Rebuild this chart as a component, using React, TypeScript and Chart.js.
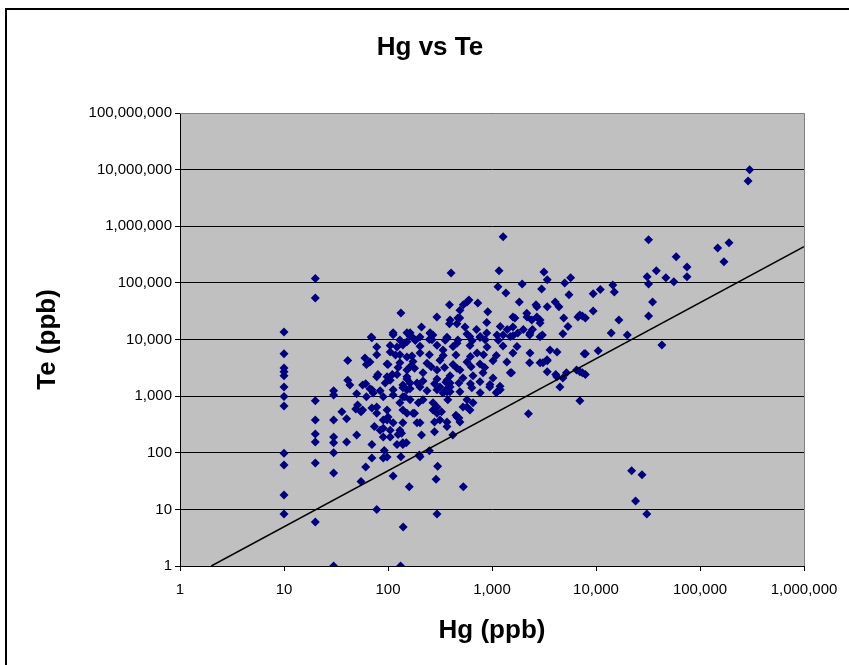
import { useEffect, useRef } from 'react';
import { Chart, registerables } from 'chart.js';

Chart.register(...registerables);

// ---- Data (Hg ppb vs Te ppb) ----
const hgPpb: number[] = [
  // Hg = 10 column
  10, 10, 10, 10, 10, 10, 10, 10, 10, 10, 10, 10,
  // Hg = 20 column
  20, 20, 20, 20, 20, 20, 20, 20,
  // Hg = 30 column
  30, 30, 30, 30, 30, 30, 30, 30,
  // 36 - 150 region
  41, 41, 43, 36, 40, 40, 50, 49, 55, 55, 61, 70, 70, 78, 90, 69, 78, 60, 67, 62, 78, 70,
  61, 70, 78, 94, 70, 78, 74, 84, 90, 90, 98, 98, 57, 50, 62, 72, 51, 57, 90, 98, 92, 112,
  133, 112, 98, 122, 139, 152, 130, 145, 152, 125, 130, 105, 122, 139, 112,
  133, 112, 152, 105, 122, 139, 130, 152, 100, 130, 152, 80, 110,
  // upper cluster
  1280, 404, 1170, 1140, 1360, 1950, 1830, 3160, 3400, 3000, 5000, 5700, 5500, 390, 530, 600,
  730, 910, 890, 295, 490, 460, 390, 210, 550, 2650, 3400, 4050, 4400, 2160, 2410, 2700, 2900,
  1660, 1590, 4900, 5370, 6700, 7400, 4800, 1200, 1400, 1280, 1500, 1770, 2000, 2300, 2450,
  3050, 710, 610, 770, 890, 270, 370, 250, 203, 174, 152,
  395, 470, 492, 575, 1590, 2170, 2700, 2900, 163, 254,
  // middle / lower cluster
  2240, 7000, 7700, 4500, 6500, 7400, 4200, 4800, 5200, 3400, 2300, 2900, 3400, 1500, 1200,
  1100, 950, 770, 640, 575, 657, 526, 614, 480, 450, 492, 420, 210, 280, 250, 200, 150, 135,
  139, 180, 203, 316, 369, 327, 376, 338, 395, 271, 271, 196, 217, 152, 163, 203,
  132, 140, 296, 160, 290, 300, 530, 203, 4100, 2320, 3090, 3380, 3610, 4220, 1540, 1390,
  1590, 1120, 575, 461, 369, 369, 395, 369, 296, 296, 280, 174, 190, 139, 163, 139, 112, 78,
  100, 90, 105, 139,
  // dense rows
  112, 163, 254, 369, 575, 767, 1117, 1592, 2318, 2894,
  105, 203, 296, 422, 614, 896, 1276, 1739,
  98, 174, 237, 316, 422, 575, 767, 1023,
  105, 152, 217, 296, 395, 526, 767, 957, 1194,
  67, 84, 163, 237, 296, 369, 492,
  203, 338, 718, 461, 163, 217, 296, 395, 492, 657, 819, 1023, 139, 316,
  130, 183, 265, 355, 470, 645, 860, 1150,
  118, 170, 250, 340, 450, 620, 830, 1100,
  125, 180, 260, 350, 460, 630, 850,
  190, 280, 360, 480, 620,
  // right side
  300000, 290000, 32000, 148000, 190000, 170000, 59000, 38000, 31000, 32000, 47000, 56000,
  75000, 75000, 35000, 32000, 16600, 14000, 20000, 9400, 11000, 14500, 15000, 9400, 7000,
  7900, 43000, 7900, 10500, 7900, 7000, 22000, 27700, 24000, 30800,
];

const tePpb: number[] = [
  // Hg = 10 column
  13600, 5600, 3150, 2700, 2300, 1450, 980, 670, 98, 61, 18, 8.3,
  // Hg = 20 column
  120000, 54000, 830, 380, 215, 155, 66, 6,
  // Hg = 30 column
  1240, 1050, 380, 190, 150, 100, 44, 1,
  // 36 - 150 region
  4250, 1900, 1580, 530, 400, 155, 205, 590, 530, 31, 56, 81, 140, 10, 81, 11100, 7400, 4700, 4000, 3600, 5400, 10700,
  1650, 1290, 2200, 1700, 620, 500, 290, 250, 190, 970, 380, 570, 1580, 1100, 970, 1140, 700, 570, 270, 84, 110, 39,
  85, 1290, 2200, 2400, 1580, 2200, 760, 970, 500, 210, 250, 190, 140, 140, 340,
  29500, 13100, 13100, 6000, 7400, 8000, 5400, 4900, 3600, 3900, 2900, 2400, 2400,
  // upper cluster
  650000, 150000, 163000, 85000, 66000, 96000, 46000, 156000, 113000, 78000, 100000, 123000, 62000, 41000, 41000, 50000,
  44000, 31000, 20000, 25000, 24000, 19000, 19000, 16600, 16600, 41000, 38000, 46000, 38000, 29000, 22000, 25000, 19500,
  24000, 16600, 24000, 17000, 25000, 26000, 12600, 17000, 15000, 12000, 11300, 13000, 15000, 12000, 15000,
  12000, 15000, 11300, 11300, 13000, 12000, 10700, 10000, 11100, 10700, 9100,
  22000, 24000, 33000, 46000, 25000, 25000, 38000, 22000, 13100, 13100,
  // middle / lower cluster
  490, 830, 5600, 1450, 2900, 2600, 2200, 2100, 2600, 2700, 3900, 3900, 4200, 2600, 1300,
  1150, 1450, 1150, 1400, 860, 760, 640, 570, 410, 460, 350, 205, 205, 235, 108, 91, 150, 220,
  340, 500, 340, 380, 350, 530, 860, 1140, 1190, 760, 570, 760, 860, 1290, 1700, 1450,
  1, 4.9, 8.3, 25, 34, 58, 25, 85, 2400, 5800, 3900, 4400, 6500, 6000, 2600, 4000,
  5800, 1190, 640, 430, 290, 1190, 1450, 1900, 640, 500, 350, 500, 340, 970, 860, 570, 1050, 640,
  430, 380, 250, 150,
  // dense rows
  12100, 11500, 12800, 11000, 12500, 10800, 12000, 11600, 13000, 11200,
  7800, 7600, 7900, 7500, 7800, 7400, 7700, 7500,
  3700, 4100, 3800, 4300, 3600, 4000, 3700, 4200,
  1900, 2000, 1850, 2000, 1700, 2100, 1800, 1600, 1500,
  1350, 1250, 1350, 1250, 1300, 1350, 1200,
  5800, 6500, 5800, 8600, 3300, 2600, 2900, 2300, 2900, 2300, 2600, 2100, 1400, 1450,
  9800, 9600, 9900, 9700, 9800, 9500, 9900, 9700,
  5300, 5100, 5400, 5200, 5300, 5000, 5400, 5200,
  3200, 3100, 3300, 3200, 3100, 3300, 3200,
  1700, 1650, 1750, 1700, 1650,
  // right side
  10000000, 6300000, 575000, 415000, 510000, 235000, 290000, 163000, 128000, 96000, 123000, 105000,
  190000, 128000, 46000, 26000, 22000, 13000, 12000, 64000, 76000, 92000, 69000, 32000, 27000,
  24000, 8000, 5600, 6300, 2400, 2700, 48, 41, 14, 8.3,
];

// Trend line end points (Hg, Te)
const trendHg: number[] = [2, 1000000];
const trendTe: number[] = [1, 437000];

const xTickValues: number[] = [1, 10, 100, 1000, 10000, 100000, 1000000];
const yTickValues: number[] = [1, 10, 100, 1000, 10000, 100000, 1000000, 10000000, 100000000];

const chartTitle = 'Hg vs Te';
const xAxisTitle = 'Hg (ppb)';
const yAxisTitle = 'Te (ppb)';

const FONT = '"Liberation Sans", Arial, sans-serif';

export default function App() {
  const canvasRef = useRef<HTMLCanvasElement>(null);

  useEffect(() => {
    document.body.style.margin = '0';
    const canvas = canvasRef.current;
    if (!canvas) return;

    const points = hgPpb.map((x, i) => ({ x, y: tePpb[i] }));
    const trend = trendHg.map((x, i) => ({ x, y: trendTe[i] }));

    const decor = {
      id: 'decor',
      beforeDraw(chart: any) {
        const { ctx, chartArea } = chart;
        ctx.save();
        ctx.fillStyle = '#ffffff';
        ctx.fillRect(0, 0, chart.width, chart.height);
        ctx.strokeStyle = '#000000';
        ctx.lineWidth = 2;
        ctx.strokeRect(6, 9, 1000, 1000);
        ctx.fillStyle = '#C0C0C0';
        ctx.fillRect(chartArea.left, chartArea.top, chartArea.right - chartArea.left, chartArea.bottom - chartArea.top);
        ctx.restore();
      },
      afterDraw(chart: any) {
        const { ctx, chartArea } = chart;
        ctx.save();
        ctx.strokeStyle = '#808080';
        ctx.lineWidth = 1;
        ctx.beginPath();
        ctx.moveTo(chartArea.left, chartArea.top + 0.5);
        ctx.lineTo(chartArea.right + 0.5, chartArea.top + 0.5);
        ctx.lineTo(chartArea.right + 0.5, chartArea.bottom);
        ctx.stroke();

        ctx.fillStyle = '#000000';
        ctx.textAlign = 'center';
        ctx.textBaseline = 'middle';
        ctx.font = `bold 26px ${FONT}`;
        ctx.fillText(chartTitle, 430, 48);
        ctx.fillText(xAxisTitle, (chartArea.left + chartArea.right) / 2, 631);
        ctx.translate(48, (chartArea.top + chartArea.bottom) / 2);
        ctx.rotate(-Math.PI / 2);
        ctx.fillText(yAxisTitle, 0, 0);
        ctx.restore();
      },
    };

    const chart = new Chart(canvas, {
      type: 'scatter',
      data: {
        datasets: [
          {
            data: trend,
            showLine: true,
            borderColor: '#000000',
            borderWidth: 1.5,
            pointRadius: 0,
            fill: false,
          } as any,
          {
            data: points,
            pointStyle: 'rectRot',
            pointRadius: 4.5,
            backgroundColor: '#000080',
            borderColor: '#000080',
            borderWidth: 0,
          },
        ],
      },
      options: {
        responsive: false,
        animation: false,
        devicePixelRatio: 1,
        layout: { padding: { left: 0, top: 113, right: 45, bottom: 0 } },
        plugins: { legend: { display: false }, tooltip: { enabled: false }, title: { display: false } },
        scales: {
          x: {
            type: 'logarithmic',
            min: 1,
            max: 1000000,
            afterBuildTicks: (scale: any) => {
              scale.ticks = xTickValues.map((value) => ({ value }));
            },
            afterFit: (scale: any) => {
              scale.height = 99;
            },
            ticks: {
              autoSkip: false,
              maxRotation: 0,
              color: '#000000',
              padding: 10,
              font: { family: FONT, size: 15 },
              callback: (v: any) => Number(v).toLocaleString('en-US'),
            },
            grid: { drawOnChartArea: false, drawTicks: true, tickLength: 5, color: '#000000' },
            border: { color: '#000000', width: 1 },
          },
          y: {
            type: 'logarithmic',
            min: 1,
            max: 100000000,
            afterBuildTicks: (scale: any) => {
              scale.ticks = yTickValues.map((value) => ({ value }));
            },
            afterFit: (scale: any) => {
              scale.width = 180;
            },
            ticks: {
              autoSkip: false,
              color: '#000000',
              padding: 3,
              font: { family: FONT, size: 15 },
              callback: (v: any) => Number(v).toLocaleString('en-US'),
            },
            grid: {
              drawTicks: true,
              tickLength: 5,
              color: '#000000',
              lineWidth: 1,
            },
            border: { color: '#000000', width: 1 },
          },
        },
      },
      plugins: [decor],
    } as any);

    return () => chart.destroy();
  }, []);

  return <canvas ref={canvasRef} width={849} height={665} style={{ display: 'block' }} />;
}
